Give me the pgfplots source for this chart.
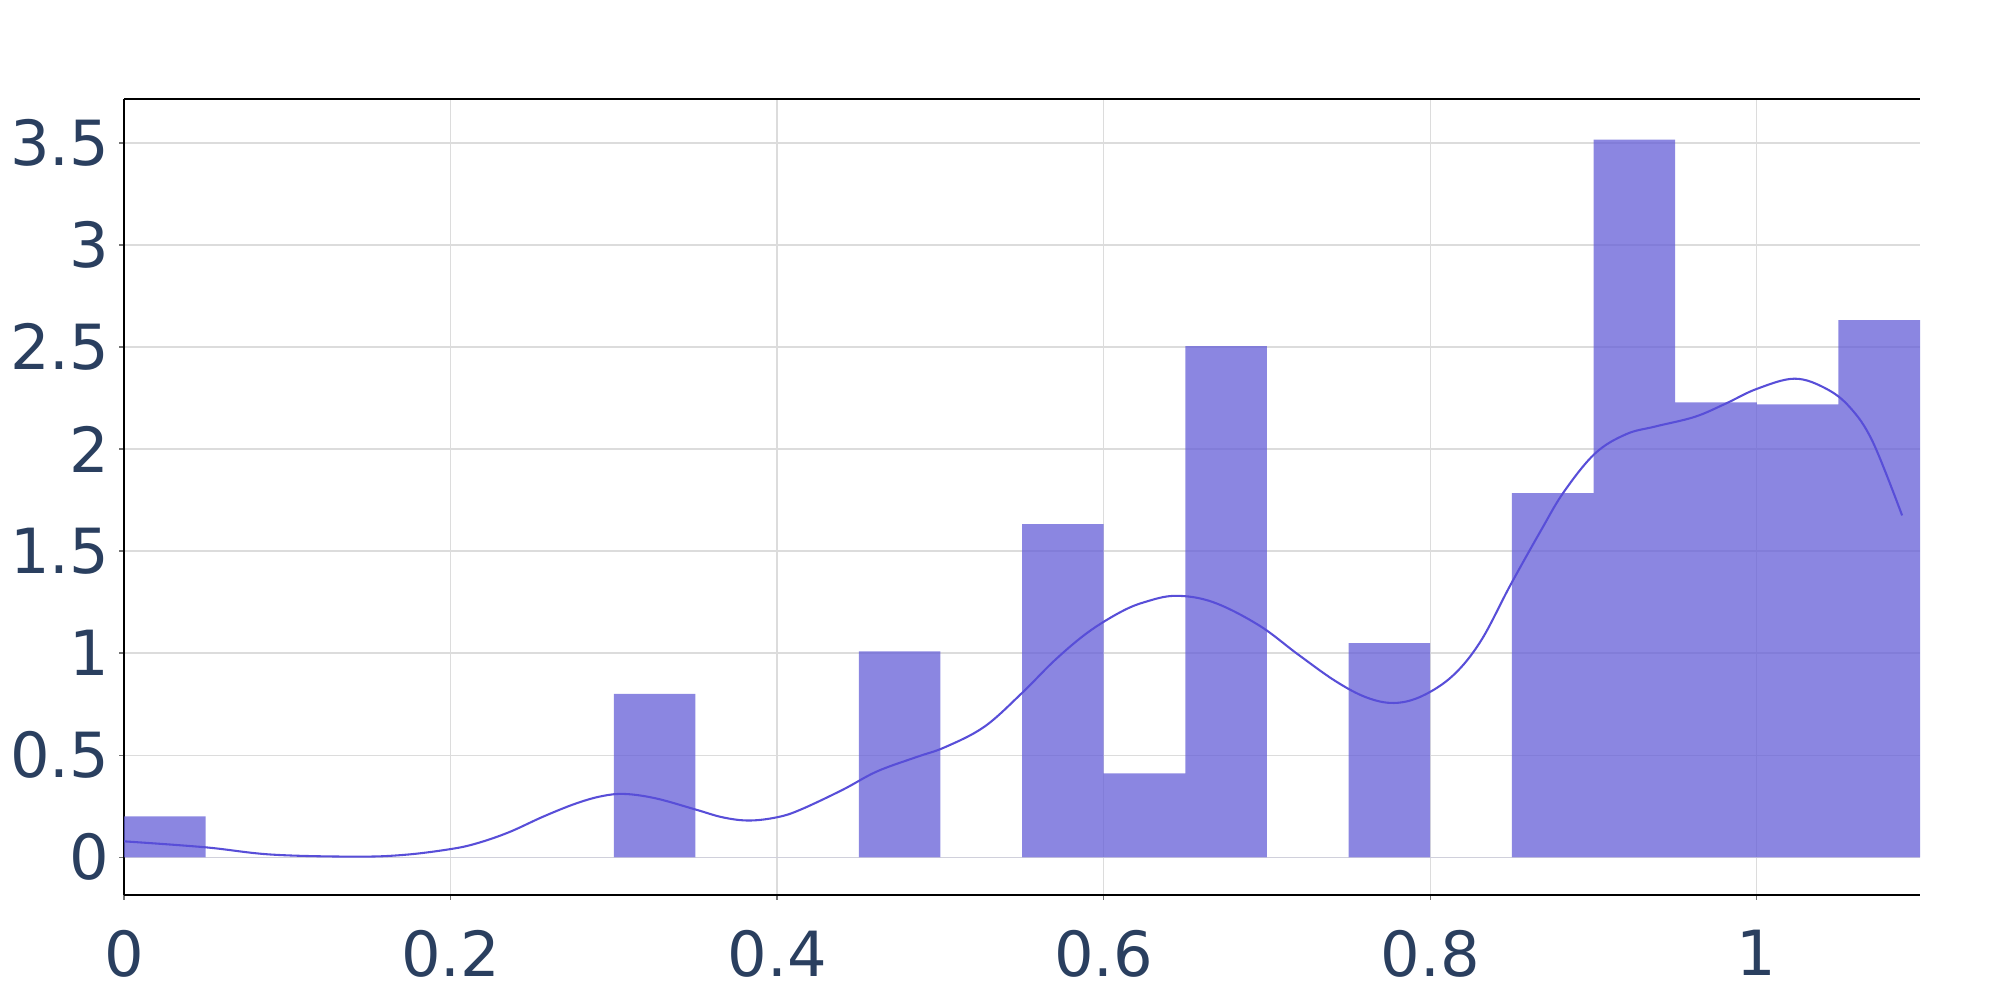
\documentclass[border=0pt]{standalone}
\usepackage{pgfplots}
\pgfplotsset{compat=1.18}
\usepackage{fontspec}
\setmainfont{DejaVu Sans}
\definecolor{txt}{RGB}{42,63,95}
\definecolor{barc}{RGB}{100,94,215}
\definecolor{linec}{RGB}{88,78,216}
\definecolor{gridc}{RGB}{220,220,220}
\begin{document}
\begin{tikzpicture}
\useasboundingbox (0,0) rectangle (722.7pt,361.35pt);
\begin{axis}[
  at={(44.81pt,37.94pt)}, anchor=south west,
  scale only axis, width=649.0pt, height=287.6pt,
  xmin=0, xmax=1.1, ymin=-0.185, ymax=3.715,
  axis x line*=box, axis y line*=left,
  axis line style={black, line width=0.55pt, -},
  xtick={0,0.2,0.4,0.6,0.8,1},
  ytick={0,0.5,1,1.5,2,2.5,3,3.5},
  xticklabels={0,0.2,0.4,0.6,0.8,1},
  yticklabels={0,0.5,1,1.5,2,2.5,3,3.5},
  xtick pos=bottom, ytick pos=left,
  tick align=outside, major tick length=1.8pt,
  tick style={black!55, line width=0.5pt},
  grid=major, major grid style={gridc, line width=0.5pt},
  ticklabel style={font=\fontsize{22.5}{26}\selectfont, text=txt, inner sep=0pt},
  yticklabel style={anchor=east, xshift=-3.4pt},
  xticklabel style={anchor=north, yshift=-10.8pt},
  /pgf/number format/assume math mode=true,
  clip=true,
]
\addplot[ybar interval, fill=barc, fill opacity=0.75, draw=none] coordinates {
(0.00,0.200) (0.05,0) (0.10,0) (0.15,0) (0.20,0) (0.25,0)
(0.30,0.800) (0.35,0) (0.40,0) (0.45,1.009) (0.50,0)
(0.55,1.632) (0.60,0.411) (0.65,2.505) (0.70,0) (0.75,1.049)
(0.80,0) (0.85,1.784) (0.90,3.516) (0.95,2.229) (1.00,2.219)
(1.05,2.632) (1.10,2.632)
};
\addplot[smooth, tension=0.6, linec, line width=0.75pt, mark=none] coordinates {
(0,0.078) (0.0495,0.049) (0.0906,0.013) (0.1425,0.003) (0.172,0.012)
(0.2,0.040) (0.216,0.068) (0.2356,0.122) (0.257,0.200) (0.277,0.264)
(0.293,0.300) (0.307,0.310) (0.326,0.288) (0.350,0.234) (0.367,0.195)
(0.383,0.180) (0.4,0.196) (0.414,0.232) (0.440,0.330) (0.461,0.420) (0.485,0.490) (0.503,0.540)
(0.527,0.640) (0.550,0.805) (0.570,0.965) (0.590,1.100) (0.610,1.200) (0.625,1.250)
(0.644,1.281) (0.667,1.250) (0.695,1.137) (0.719,0.994) (0.742,0.863)
(0.761,0.783) (0.778,0.756) (0.795,0.790) (0.814,0.891) (0.831,1.060)
(0.849,1.332) (0.868,1.604) (0.882,1.792) (0.901,1.979) (0.920,2.073)
(0.938,2.111) (0.962,2.158) (0.981,2.223) (1.0,2.295) (1.023,2.345)
(1.042,2.298) (1.057,2.205) (1.071,2.036) (1.089,1.675)
};
\end{axis}
\end{tikzpicture}
\end{document}
